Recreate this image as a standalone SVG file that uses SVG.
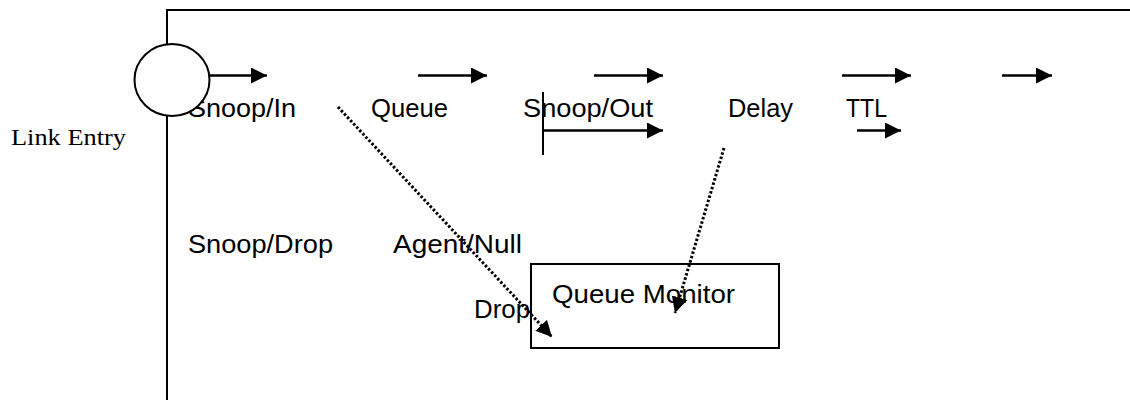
<svg xmlns="http://www.w3.org/2000/svg" width="1130" height="400" viewBox="0 0 1130 400">
<style>
.t{font-family:"Liberation Sans",Arial,sans-serif;font-size:25px;fill:#000}
.s{font-family:"Liberation Serif","Times New Roman",serif;font-size:24px;fill:#000}
.ln{stroke:#000;stroke-width:2;fill:none}
.arr{stroke:#000;stroke-width:2.5;fill:none;marker-end:url(#ah)}
.dot{stroke:#000;stroke-width:3;fill:none;stroke-dasharray:2.5 2;marker-end:url(#ah2)}
</style>
<defs>
<marker id="ah" markerUnits="userSpaceOnUse" markerWidth="18" markerHeight="16" refX="16" refY="8" orient="auto">
<path d="M0,0 L16,8 L0,16 Z" fill="#000"/>
</marker>
<marker id="ah2" markerUnits="userSpaceOnUse" markerWidth="18" markerHeight="16" refX="16" refY="8" orient="auto">
<path d="M0,0 L16,8 L0,16 Z" fill="#000"/>
</marker>
</defs>
<rect width="1130" height="400" fill="#fff"/>
<g id="frame">
<path class="ln" d="M167,400 V10 H1130"/>
</g>
<g id="link-entry">
<text class="s" x="11" y="145" textLength="115" lengthAdjust="spacingAndGlyphs">Link Entry</text>
</g>
<g id="snoop-in"><text class="t" x="188" y="117" textLength="108" lengthAdjust="spacingAndGlyphs">Snoop/In</text></g>
<g id="entry-circle">
<ellipse cx="172" cy="80" rx="37.5" ry="36" fill="#fff" stroke="#000" stroke-width="2"/>
</g>
<g id="queue"><text class="t" x="371" y="117" textLength="77" lengthAdjust="spacingAndGlyphs">Queue</text></g>
<g id="snoop-out"><text class="t" x="523" y="117" textLength="130" lengthAdjust="spacingAndGlyphs">Snoop/Out</text></g>
<g id="delay"><text class="t" x="728" y="117" textLength="65" lengthAdjust="spacingAndGlyphs">Delay</text></g>
<g id="ttl"><text class="t" x="846" y="117" textLength="41" lengthAdjust="spacingAndGlyphs">TTL</text></g>
<g id="snoop-drop"><text class="t" x="188" y="253" textLength="145" lengthAdjust="spacingAndGlyphs">Snoop/Drop</text></g>
<g id="agent-null"><text class="t" x="393" y="253" textLength="129" lengthAdjust="spacingAndGlyphs">Agent/Null</text></g>
<g id="drop"><text class="t" x="474" y="318" textLength="56" lengthAdjust="spacingAndGlyphs">Drop</text></g>
<g id="queue-monitor">
<rect x="531" y="264" width="248" height="84" fill="none" stroke="#000" stroke-width="2"/>
<text class="t" x="552" y="303" textLength="183" lengthAdjust="spacingAndGlyphs">Queue Monitor</text>
</g>
<g id="connectors">
<line class="arr" x1="209" y1="75.5" x2="267" y2="75.5"/>
<line class="arr" x1="418" y1="75.5" x2="487" y2="75.5"/>
<line class="arr" x1="594" y1="75.5" x2="663" y2="75.5"/>
<line class="arr" x1="842" y1="75.5" x2="911" y2="75.5"/>
<line class="arr" x1="1002" y1="75.5" x2="1052" y2="75.5"/>
<line class="arr" x1="543" y1="130.5" x2="663" y2="130.5"/>
<line class="ln" x1="543" y1="92" x2="543" y2="155"/>
<line class="arr" x1="857" y1="130.5" x2="901" y2="130.5"/>
<line class="dot" x1="338" y1="107" x2="552" y2="337"/>
<line class="dot" x1="724" y1="148" x2="675" y2="313"/>
</g>
</svg>
